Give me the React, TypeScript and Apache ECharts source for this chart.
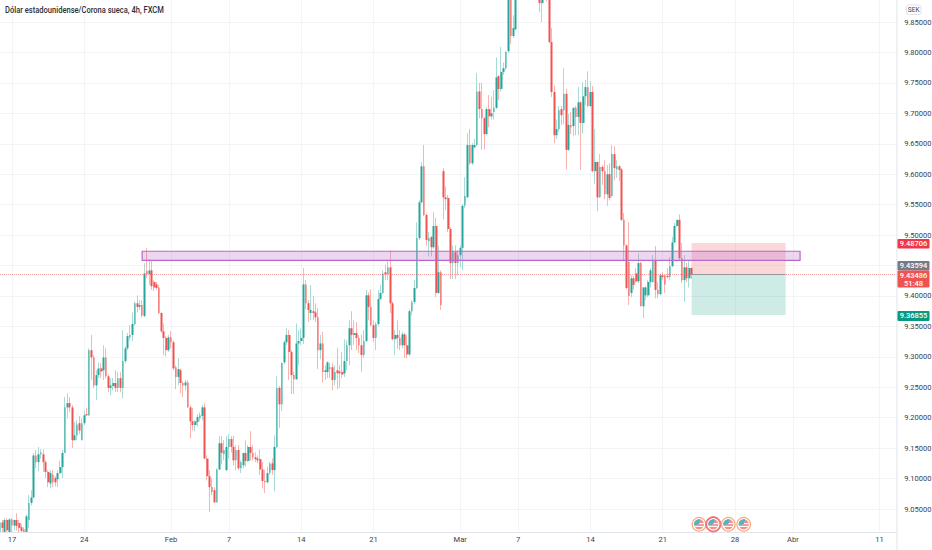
import React, { useEffect, useRef } from "react";
import * as echarts from "echarts";

// Rows are [open, close, low, high] for one 4h bar.
const weekJan10 = [
  [9.012,9.028,9.009,9.032],[9.028,9.019,9.009,9.032],[9.012,9.032,9.009,9.035],[9.032,9.015,9.009,9.035],[9.012,9.033,9.009,9.035],
];
const weekJan17 = [
  [9.033,9.023,9.010,9.035],[9.023,9.032,9.015,9.033],[9.032,9.022,9.015,9.043],[9.027,9.019,9.012,9.032],[9.020,9.014,9.009,9.025],
  [9.017,9.010,9.005,9.020],[9.012,9.038,9.009,9.041],[9.032,9.060,9.019,9.073],[9.060,9.069,9.056,9.081],[9.069,9.138,9.068,9.142],
  [9.138,9.127,9.117,9.147],[9.127,9.140,9.112,9.152],[9.140,9.143,9.133,9.148],[9.140,9.127,9.111,9.148],[9.127,9.111,9.101,9.130],
  [9.111,9.094,9.086,9.114],[9.092,9.109,9.084,9.114],[9.106,9.094,9.086,9.114],[9.101,9.094,9.087,9.104],[9.099,9.109,9.086,9.114],
  [9.109,9.119,9.107,9.129],[9.119,9.142,9.101,9.147],[9.142,9.217,9.142,9.234],[9.217,9.224,9.199,9.240],[9.224,9.217,9.209,9.234],
  [9.217,9.163,9.150,9.221],[9.163,9.171,9.163,9.193],[9.171,9.189,9.163,9.196],[9.191,9.179,9.173,9.203],[9.163,9.191,9.163,9.199],
];
const weekJan24 = [
  [9.191,9.204,9.188,9.212],[9.206,9.204,9.203,9.216],[9.204,9.311,9.203,9.314],[9.311,9.299,9.262,9.336],[9.299,9.253,9.249,9.303],
  [9.253,9.270,9.229,9.278],[9.270,9.281,9.265,9.291],[9.281,9.276,9.265,9.290],[9.278,9.299,9.262,9.319],[9.299,9.268,9.265,9.314],
  [9.268,9.249,9.242,9.271],[9.249,9.253,9.237,9.265],[9.252,9.257,9.245,9.265],[9.257,9.249,9.242,9.278],[9.249,9.265,9.242,9.275],
  [9.265,9.249,9.242,9.275],[9.249,9.293,9.232,9.344],[9.293,9.314,9.290,9.317],[9.314,9.334,9.311,9.339],[9.332,9.336,9.327,9.352],
  [9.336,9.354,9.326,9.373],[9.354,9.388,9.352,9.391],[9.388,9.382,9.373,9.401],[9.382,9.385,9.377,9.393],[9.385,9.368,9.365,9.393],
  [9.367,9.437,9.365,9.454],[9.441,9.436,9.429,9.479],[9.436,9.442,9.418,9.460],[9.442,9.416,9.410,9.459],[9.423,9.414,9.408,9.426],
];
const weekJan31 = [
  [9.419,9.413,9.410,9.423],[9.414,9.372,9.370,9.418],[9.372,9.342,9.339,9.373],[9.342,9.331,9.303,9.355],[9.331,9.311,9.301,9.334],
  [9.311,9.332,9.308,9.336],[9.332,9.324,9.314,9.342],[9.324,9.281,9.278,9.327],[9.283,9.267,9.247,9.286],[9.267,9.280,9.253,9.298],
  [9.278,9.257,9.240,9.281],[9.257,9.253,9.234,9.260],[9.253,9.258,9.245,9.262],[9.258,9.217,9.216,9.262],[9.217,9.194,9.166,9.221],
  [9.194,9.188,9.179,9.216],[9.188,9.194,9.178,9.196],[9.193,9.201,9.186,9.206],[9.199,9.204,9.194,9.209],[9.203,9.217,9.196,9.221],
  [9.217,9.133,9.132,9.224],[9.133,9.104,9.097,9.138],[9.104,9.086,9.045,9.114],[9.086,9.078,9.073,9.101],[9.081,9.061,9.060,9.086],
  [9.061,9.115,9.060,9.117],[9.115,9.158,9.114,9.170],[9.158,9.142,9.124,9.170],[9.140,9.147,9.130,9.163],[9.114,9.152,9.112,9.170],
];
const weekFeb7 = [
  [9.152,9.165,9.133,9.173],[9.165,9.152,9.143,9.170],[9.152,9.130,9.122,9.170],[9.130,9.147,9.114,9.155],[9.147,9.117,9.114,9.155],
  [9.117,9.127,9.109,9.130],[9.122,9.142,9.117,9.143],[9.142,9.129,9.120,9.163],[9.129,9.152,9.127,9.155],[9.152,9.142,9.130,9.178],
  [9.142,9.135,9.130,9.155],[9.135,9.132,9.127,9.143],[9.133,9.130,9.125,9.138],[9.132,9.115,9.106,9.148],[9.115,9.096,9.084,9.127],
  [9.096,9.094,9.076,9.114],[9.094,9.109,9.092,9.120],[9.109,9.125,9.106,9.127],[9.125,9.114,9.106,9.133],[9.114,9.152,9.079,9.171],
  [9.152,9.249,9.150,9.268],[9.249,9.222,9.183,9.252],[9.222,9.290,9.211,9.291],[9.291,9.324,9.288,9.327],[9.324,9.336,9.319,9.347],
  [9.336,9.308,9.262,9.344],[9.308,9.270,9.239,9.311],[9.270,9.263,9.239,9.275],[9.263,9.322,9.263,9.355],[9.322,9.326,9.286,9.344],
];
const weekFeb14 = [
  [9.326,9.331,9.319,9.347],[9.331,9.419,9.321,9.446],[9.419,9.388,9.378,9.426],[9.388,9.377,9.357,9.393],[9.372,9.377,9.360,9.418],
  [9.375,9.372,9.360,9.400],[9.373,9.365,9.357,9.388],[9.365,9.311,9.280,9.380],[9.311,9.322,9.296,9.336],[9.322,9.275,9.258,9.341],
  [9.275,9.278,9.262,9.286],[9.275,9.291,9.265,9.293],[9.283,9.280,9.265,9.290],[9.283,9.262,9.245,9.290],[9.262,9.275,9.253,9.286],
  [9.278,9.273,9.247,9.314],[9.276,9.273,9.249,9.286],[9.275,9.271,9.265,9.308],[9.273,9.293,9.267,9.329],[9.293,9.319,9.278,9.327],
  [9.319,9.347,9.286,9.360],[9.347,9.336,9.311,9.375],[9.336,9.339,9.319,9.360],[9.339,9.331,9.311,9.357],[9.331,9.319,9.306,9.336],
  [9.319,9.303,9.275,9.336],[9.303,9.326,9.298,9.344],[9.326,9.401,9.324,9.410],[9.401,9.382,9.360,9.406],[9.382,9.352,9.350,9.411],
];
const weekFeb21 = [
  [9.352,9.331,9.324,9.360],[9.331,9.354,9.311,9.357],[9.354,9.395,9.350,9.410],[9.395,9.405,9.393,9.418],[9.405,9.437,9.403,9.442],
  [9.439,9.436,9.426,9.451],[9.436,9.447,9.426,9.459],[9.447,9.388,9.372,9.475],[9.388,9.329,9.327,9.391],[9.329,9.336,9.303,9.344],
  [9.336,9.331,9.313,9.360],[9.331,9.319,9.311,9.344],[9.319,9.337,9.314,9.341],[9.337,9.319,9.298,9.339],[9.319,9.304,9.298,9.336],
  [9.304,9.375,9.301,9.378],[9.375,9.390,9.368,9.393],[9.390,9.413,9.387,9.426],[9.413,9.495,9.411,9.521],[9.495,9.554,9.492,9.557],
  [9.554,9.613,9.552,9.620],[9.613,9.533,9.531,9.648],[9.533,9.492,9.482,9.536],[9.490,9.495,9.465,9.505],[9.497,9.480,9.465,9.498],
  [9.480,9.515,9.477,9.538],[9.515,9.405,9.398,9.528],[9.405,9.439,9.403,9.483],[9.439,9.385,9.377,9.442],[9.605,9.562,9.526,9.610],
];
const weekFeb28 = [
  [9.562,9.559,9.541,9.580],[9.561,9.510,9.505,9.566],[9.510,9.454,9.428,9.513],[9.454,9.472,9.428,9.483],[9.472,9.454,9.428,9.483],
  [9.454,9.467,9.434,9.475],[9.467,9.479,9.447,9.483],[9.479,9.548,9.442,9.551],[9.548,9.564,9.544,9.595],[9.562,9.648,9.562,9.667],
  [9.648,9.618,9.615,9.674],[9.618,9.648,9.615,9.651],[9.644,9.648,9.643,9.658],[9.648,9.736,9.646,9.766],[9.736,9.707,9.692,9.750],
  [9.707,9.692,9.640,9.750],[9.692,9.666,9.641,9.694],[9.666,9.707,9.664,9.710],[9.707,9.695,9.677,9.730],[9.695,9.700,9.690,9.727],
  [9.702,9.709,9.690,9.738],[9.709,9.759,9.707,9.792],[9.761,9.740,9.722,9.763],[9.740,9.768,9.736,9.809],[9.768,9.774,9.763,9.784],
  [9.774,9.801,9.771,9.802],[9.802,9.894,9.799,9.899],[9.894,9.827,9.814,9.899],[9.827,9.840,9.824,9.861],[9.838,9.902,9.837,9.909],
];
const weekMar7 = [
  [9.902,9.915,9.896,9.925],[9.915,9.930,9.905,9.940],[9.930,9.945,9.920,9.955],[9.945,9.935,9.925,9.960],[9.935,9.950,9.930,9.960],
  [9.950,9.940,9.930,9.960],[9.940,9.925,9.915,9.950],[9.925,9.910,9.900,9.935],[9.910,9.900,9.895,9.920],[9.906,9.881,9.866,9.911],
  [9.881,9.902,9.850,9.906],[9.902,9.894,9.889,9.911],[9.894,9.889,9.884,9.902],[9.889,9.817,9.815,9.894],[9.817,9.735,9.727,9.840],
  [9.735,9.664,9.651,9.746],[9.664,9.674,9.658,9.690],[9.674,9.705,9.669,9.712],[9.707,9.697,9.681,9.712],[9.705,9.732,9.682,9.774],
  [9.732,9.640,9.608,9.740],[9.640,9.681,9.638,9.699],[9.681,9.677,9.666,9.702],[9.679,9.709,9.662,9.710],[9.709,9.694,9.664,9.712],
  [9.694,9.718,9.664,9.743],[9.718,9.684,9.607,9.720],[9.684,9.728,9.667,9.751],[9.728,9.743,9.713,9.755],[9.743,9.712,9.710,9.769],
];
const weekMar14 = [
  [9.712,9.735,9.710,9.753],[9.735,9.605,9.603,9.745],[9.605,9.620,9.584,9.674],[9.620,9.562,9.539,9.621],[9.562,9.612,9.561,9.633],
  [9.612,9.605,9.582,9.615],[9.605,9.567,9.559,9.623],[9.567,9.600,9.548,9.615],[9.600,9.561,9.557,9.618],[9.564,9.633,9.562,9.648],
  [9.633,9.610,9.590,9.646],[9.608,9.613,9.594,9.623],[9.613,9.607,9.589,9.615],[9.608,9.525,9.523,9.610],[9.525,9.483,9.459,9.536],
  [9.483,9.413,9.411,9.485],[9.456,9.400,9.385,9.521],[9.405,9.429,9.398,9.434],[9.429,9.418,9.410,9.433],[9.437,9.424,9.421,9.446],
  [9.424,9.454,9.421,9.470],[9.454,9.383,9.383,9.456],[9.383,9.414,9.364,9.414],[9.401,9.414,9.393,9.416],[9.401,9.423,9.398,9.426],
  [9.423,9.442,9.414,9.446],[9.423,9.459,9.421,9.467],[9.459,9.410,9.396,9.482],[9.410,9.403,9.396,9.423],[9.403,9.434,9.401,9.437],
];
const weekMar21 = [
  [9.434,9.431,9.426,9.439],[9.434,9.419,9.405,9.434],[9.433,9.431,9.429,9.446],[9.431,9.449,9.426,9.464],[9.449,9.488,9.447,9.497],
  [9.488,9.515,9.487,9.520],[9.515,9.525,9.513,9.525],[9.525,9.462,9.459,9.534],[9.462,9.426,9.421,9.487],[9.426,9.447,9.391,9.467],
  [9.447,9.429,9.423,9.454],[9.429,9.446,9.414,9.459],[9.446,9.4349,9.428,9.447],
];

const candles = [
  ...weekJan10, ...weekJan17, ...weekJan24, ...weekJan31, ...weekFeb7, ...weekFeb14,
  ...weekFeb21, ...weekFeb28, ...weekMar7, ...weekMar14, ...weekMar21,
];

const barCount = 373; // bars on the time scale, including the empty future ones
const tickLabels: Record<number, string> = {
  5: "17", 35: "24", 71: "Feb", 95: "7", 125: "14", 155: "21", 191: "Mar",
  215: "7", 245: "14", 275: "21", 305: "28", 329: "Abr", 365: "11",
};

const title = "Dólar estadounidense/Corona sueca, 4h, FXCM";
const lastPrice = 9.43486;
const entryPrice = 9.43594;
const stopPrice = 9.48706;
const targetPrice = 9.36855;
const zoneTop = 9.4734;
const zoneBottom = 9.4586;
const countdown = "51:48";

const UP = "#26a69a";
const DOWN = "#ef5350";
const UP_WICK = "#a8dbd6";
const DOWN_WICK = "#f9b4b2";
const TEXT = "#3a3e4a";
const FONT = "Roboto, sans-serif";

const cat = (i: number) => "b" + i;
const categories = Array.from({ length: barCount }, (_, i) => cat(i));

function priceTag(y: number, h: number, fill: string, lines: string[]) {
  const els: any[] = [
    { type: "rect", z: 30, shape: { x: 897.5, y, width: 32, height: h, r: 1 }, style: { fill } },
  ];
  lines.forEach((t, k) => {
    els.push({
      type: "text", z: 31, x: 913.5, y: y + 4.9 + k * 8.3,
      style: { text: t, fill: "#ffffff", font: `500 7.5px ${FONT}`, align: "center", verticalAlign: "middle" },
    });
  });
  return els;
}

function eventIcon(cx: number, cy: number, wide: boolean) {
  const els: any[] = [];
  if (wide) {
    els.push({ type: "circle", z: 12, shape: { cx, cy, r: 7.6 }, style: { fill: "#fff", stroke: "#f06a6a", lineWidth: 1 } });
  }
  els.push(
    { type: "circle", z: 12, shape: { cx, cy, r: 6.8 }, style: { fill: "#fff", stroke: wide ? "#f06a6a" : "#f8a878", lineWidth: 1.2 } },
    { type: "circle", z: 13, shape: { cx, cy, r: 5 }, style: { fill: "#f58f8f" } },
    { type: "rect", z: 14, shape: { x: cx - 1, y: cy - 1.2, width: 6, height: 1 }, style: { fill: "#fff" } },
    { type: "rect", z: 14, shape: { x: cx - 4.6, y: cy + 1.6, width: 9, height: 1 }, style: { fill: "#fff" } },
    { type: "sector", z: 15, shape: { cx, cy, r0: 0, r: 5, startAngle: Math.PI * 0.95, endAngle: Math.PI * 1.6 }, style: { fill: "#4db6c4" } },
  );
  return els;
}

export default function App() {
  const ref = useRef<HTMLDivElement>(null);

  useEffect(() => {
    const chart = echarts.init(ref.current!, undefined, { renderer: "svg" });
    const bodies = candles.map(([o, c]) => [o, c, Math.min(o, c), Math.max(o, c)]);
    const showTick = (i: number) => tickLabels[i] !== undefined;

    chart.setOption({
      animation: false,
      backgroundColor: "#ffffff",
      grid: { left: -1.25, top: -8.44, width: 898.93, height: 547.92, containLabel: false, outerBoundsMode: "none" },
      xAxis: [
        {
          type: "category", data: categories, min: 0, max: barCount - 1, position: "bottom",
          axisLine: { show: false }, axisTick: { show: false }, axisLabel: { show: false },
          splitLine: { show: true, alignWithLabel: true, interval: showTick, lineStyle: { color: "#f3f4f8", width: 1 } },
        },
        {
          type: "category", data: categories, min: 0, max: barCount - 1, position: "bottom", z: 20,
          axisLine: { show: false }, axisTick: { show: false }, splitLine: { show: false },
          axisLabel: {
            show: true, interval: showTick, margin: -3.5, verticalAlign: "top", hideOverlap: false,
            formatter: (_: string, i: number) => tickLabels[i] ?? "",
            color: TEXT, fontSize: 7.6, fontFamily: FONT,
          },
        },
      ],
      yAxis: {
        type: "value", position: "right", min: 9, max: 9.9, interval: 0.05, scale: true,
        axisLine: { show: false }, axisTick: { show: false },
        splitLine: { show: true, lineStyle: { color: "#f3f4f8", width: 1 } },
        axisLabel: {
          margin: 6.5, color: TEXT, fontSize: 7.5, fontFamily: FONT,
          formatter: (v: number) => {
            const r = Math.round(v * 100) / 100;
            return r === 9 || r === 9.9 || r === 9.45 ? "" : v.toFixed(5);
          },
        },
      },
      series: [
        {
          name: "Wicks", type: "candlestick", xAxisIndex: 0, data: candles, barWidth: 1, clip: true,
          itemStyle: {
            color: UP_WICK, color0: DOWN_WICK, borderColor: UP_WICK, borderColor0: DOWN_WICK, borderColorDoji: UP_WICK, borderWidth: 1,
          },
          markArea: {
            silent: true, z: 5,
            data: [
              [{ coord: [cat(287), stopPrice], itemStyle: { color: "rgba(242,54,69,0.2)", borderWidth: 0 } }, { coord: [cat(326), lastPrice] }],
              [{ coord: [cat(287), lastPrice], itemStyle: { color: "rgba(8,153,129,0.2)", borderWidth: 0 } }, { coord: [cat(326), targetPrice] }],
              [
                { coord: [cat(59), zoneTop], itemStyle: { color: "rgba(186,104,200,0.27)", borderColor: "#b868c8", borderWidth: 1.2 } },
                { coord: [cat(332), zoneBottom] },
              ],
            ],
          },
          markLine: {
            silent: true, symbol: "none", z: 5, label: { show: false },
            data: [
              [
                { coord: [cat(0), lastPrice], lineStyle: { color: "#ef5350", type: "dotted", width: 1, opacity: 0.55 } },
                { coord: [cat(barCount - 1), lastPrice] },
              ],
              [
                { coord: [cat(287), lastPrice], lineStyle: { color: "#9598a1", type: "solid", width: 1 } },
                { coord: [cat(326), lastPrice] },
              ],
            ],
          },
        },
        {
          name: "Bodies", type: "candlestick", xAxisIndex: 0, data: bodies, barWidth: 2.2, clip: true,
          itemStyle: { color: UP, color0: DOWN, borderColor: UP, borderColor0: DOWN, borderColorDoji: UP, borderWidth: 0 },
        },
      ],
      graphic: [
        { type: "rect", z: 10, shape: { x: 0, y: 532.5, width: 897, height: 18 }, style: { fill: "#ffffff" } },
        { type: "line", z: 11, shape: { x1: 0, y1: 532.5, x2: 897, y2: 532.5 }, style: { stroke: "#e0e3eb", lineWidth: 1 } },
        { type: "line", z: 11, shape: { x1: 897, y1: 0, x2: 897, y2: 550 }, style: { stroke: "#e0e3eb", lineWidth: 1 } },
        {
          type: "text", z: 31, x: 5, y: 10, scaleX: 0.86,
          style: { text: title, fill: "#2a2e39", font: `500 8.8px ${FONT}`, align: "left", verticalAlign: "middle" },
        },
        ...eventIcon(699, 524.3, false),
        ...eventIcon(713.3, 524.3, true),
        ...eventIcon(728.3, 524.3, false),
        ...eventIcon(743.7, 524.3, false),
        { type: "rect", z: 30, shape: { x: 906.5, y: 5, width: 14.5, height: 9.5, r: 2 }, style: { fill: "#fff", stroke: "#e0e3eb", lineWidth: 1 } },
        { type: "text", z: 31, x: 913.7, y: 9.9, style: { text: "SEK", fill: TEXT, font: `6.6px ${FONT}`, align: "center", verticalAlign: "middle" } },
        ...priceTag(239, 9.5, "#f23645", [stopPrice.toFixed(5)]),
        ...priceTag(261, 9.5, "#787b86", [entryPrice.toFixed(5)]),
        ...priceTag(270.5, 17, "#ef5350", [lastPrice.toFixed(5), countdown]),
        ...priceTag(311, 10, "#089981", [targetPrice.toFixed(5)]),
      ],
    });

    return () => chart.dispose();
  }, []);

  return <div ref={ref} style={{ position: "absolute", left: 0, top: 0, width: 932, height: 550 }} />;
}
